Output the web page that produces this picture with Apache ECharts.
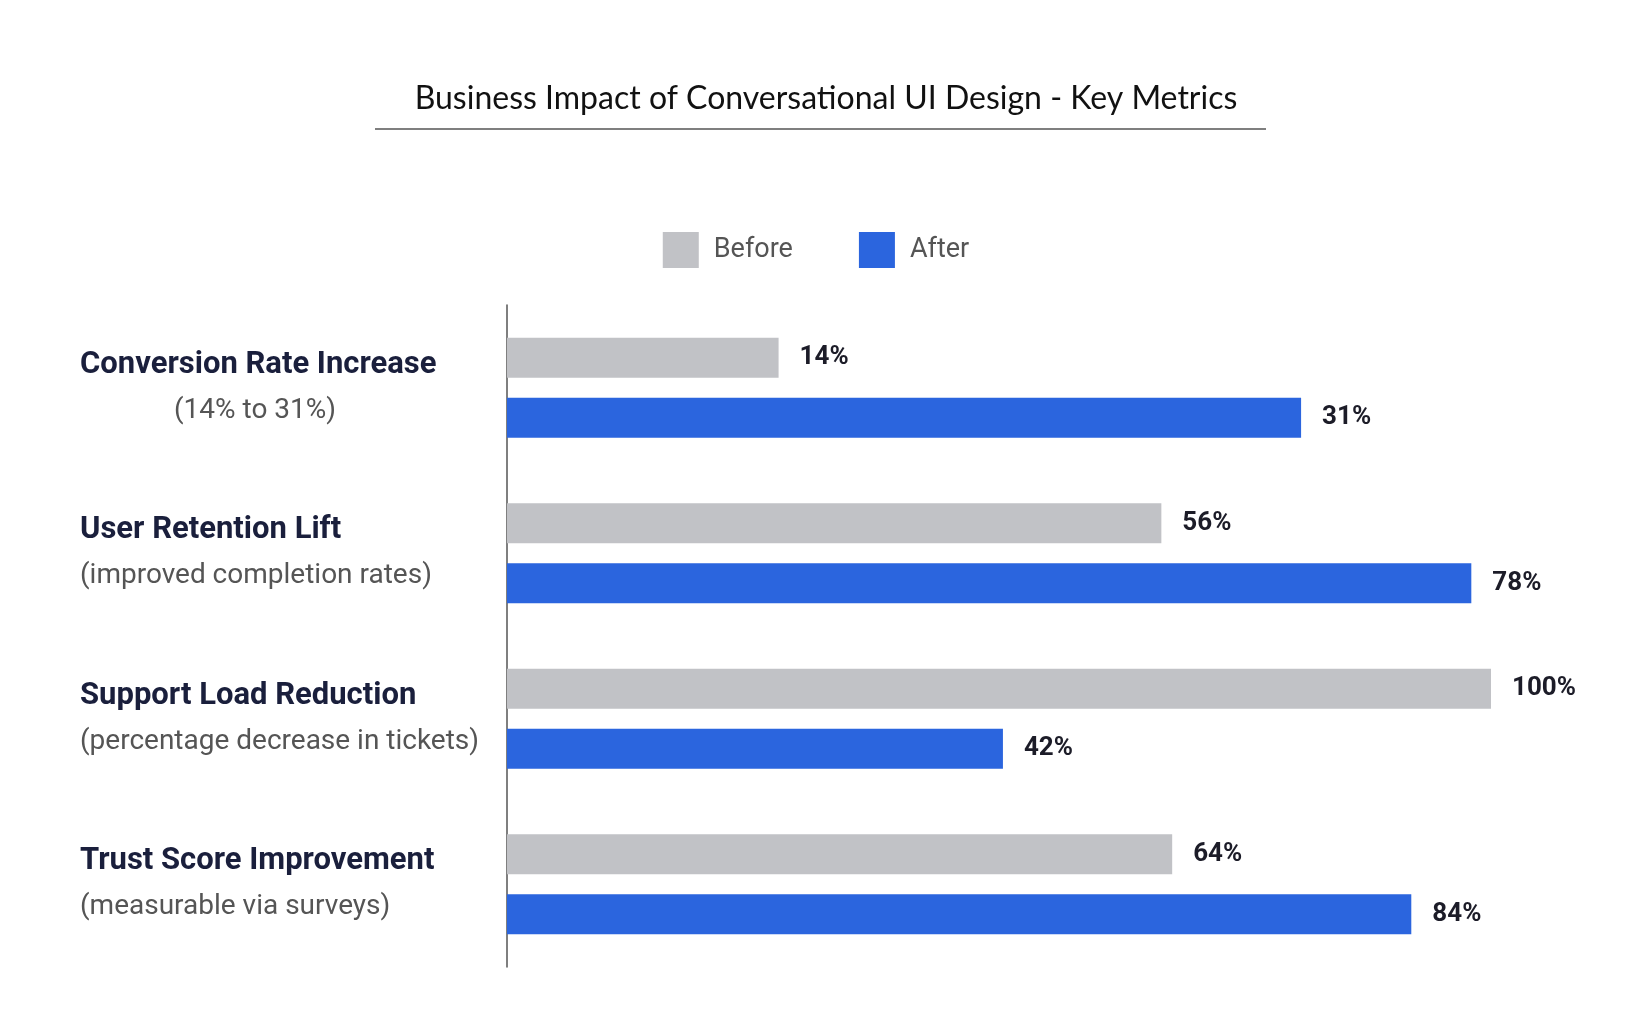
<!DOCTYPE html>
<html>
<head>
<meta charset="utf-8">
<script src="https://cdn.jsdelivr.net/npm/echarts@6/dist/echarts.min.js"></script>
<style>html,body{margin:0;padding:0;background:#fff}#chart{width:1632px;height:1026px}</style>
</head>
<body>
<div id="chart"></div>
<script>
var categories=['Conversion Rate Increase','User Retention Lift','Support Load Reduction','Trust Score Improvement'];
var subtitles=['(14% to 31%)','(improved completion rates)','(percentage decrease in tickets)','(measurable via surveys)'];
// bar lengths as drawn (relative scale, 100 = longest bar)
var beforeLen=[27.6,66.5,100,67.6];
var afterLen=[80.7,98,50.4,91.9];
// labels printed next to bars
var beforeText=['14%','56%','100%','64%'];
var afterText=['31%','78%','42%','84%'];

var chart=echarts.init(document.getElementById('chart'));
var labelStyle={show:true,position:'right',distance:21,fontSize:26,fontWeight:'bold',color:'#1c1c28',fontFamily:'Roboto'};
var option={
    backgroundColor:'#fff',
    title:{
        text:'Business Impact of Conversational UI Design - Key Metrics',
        left:821,top:78,textAlign:'center',
        textStyle:{fontSize:32,fontWeight:'normal',color:'#111',fontFamily:'Lato'}
    },
    graphic:[{type:'line',shape:{x1:375,y1:129,x2:1266,y2:129},style:{stroke:'#555',lineWidth:1.5}}],
    legend:{
        top:227,left:'center',itemWidth:36,itemHeight:36,itemGap:66,
        icon:'rect',
        textStyle:{fontSize:27,color:'#555',fontFamily:'Roboto',padding:[0,0,0,10]},
        data:['Before','After']
    },
    grid:{left:507,right:141,top:305,bottom:59},
    xAxis:{type:'value',min:0,max:100,show:false},
    yAxis:{
        type:'category',inverse:true,data:categories,
        axisTick:{show:false},
        axisLine:{show:true,lineStyle:{color:'#555',width:1.5}},
        axisLabel:{
            margin:427,align:'left',
            formatter:function(v,i){
                return '{t|'+v+'}\n{'+(i===0?'s0':'s')+'|'+subtitles[i]+'}';
            },
            rich:{
                t:{fontSize:31,fontWeight:'bold',color:'#1a1f3c',fontFamily:'Roboto',lineHeight:46},
                s:{fontSize:28,color:'#555',fontFamily:'Roboto',lineHeight:46},
                s0:{fontSize:28,color:'#555',fontFamily:'Roboto',lineHeight:46,padding:[0,0,0,94]}
            }
        }
    },
    series:[
        {name:'Before',type:'bar',barWidth:40,barGap:'50%',itemStyle:{color:'#c1c2c6'},
         data:beforeLen,
         label:Object.assign({},labelStyle,{formatter:function(p){return beforeText[p.dataIndex];}})},
        {name:'After',type:'bar',barWidth:40,itemStyle:{color:'#2b65de'},
         data:afterLen,
         label:Object.assign({},labelStyle,{formatter:function(p){return afterText[p.dataIndex];}})}
    ]
};
chart.setOption(option);
</script>
</body>
</html>
